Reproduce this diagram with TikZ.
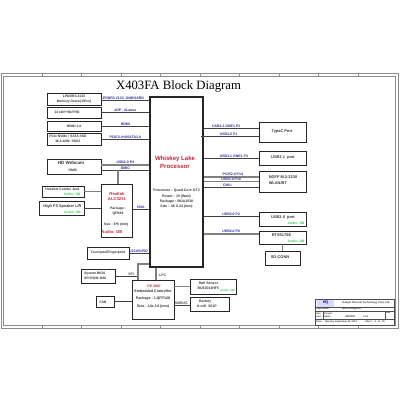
\documentclass[tikz,border=0pt]{standalone}
\usepackage{fontspec}
\setmainfont{Liberation Sans}
\newfontfamily\titlefont{Liberation Serif}
\usepackage{xcolor}
\usetikzlibrary{arrows.meta, positioning, calc}
\definecolor{siglabel}{RGB}{40,40,150}
\definecolor{audiogreen}{RGB}{60,200,90}
\definecolor{partred}{RGB}{190,40,60}

\begin{document}
\begin{tikzpicture}[
  x=0.25mm, y=-0.25mm,
  blk/.style={rectangle, draw=black!85, line width=0.6pt, inner sep=0pt},
  txt/.style={inner sep=0pt, align=center, text=black!80, font=\fontsize{2.4}{3.4}\selectfont\bfseries},
  bigtxt/.style={txt, font=\fontsize{2.8}{3.8}\selectfont\bfseries},
  partname/.style={inner sep=0pt, align=center, text=partred, font=\fontsize{3}{3.8}\selectfont\bfseries},
  audiotag/.style={inner sep=0pt, text=audiogreen, font=\fontsize{2.4}{3}\selectfont\bfseries},
  wire/.style={draw=black!75, line width=0.55pt},
  graywire/.style={draw=black!50, line width=0.9pt},
  sig/.style={above, inner sep=0.35pt, font=\fontsize{2.5}{3}\selectfont\bfseries, text=siglabel},
  plainsig/.style={sig, text=black!70},
  border/.style={draw=black!45, line width=0.55pt},
  cell/.style={draw=black!70, line width=0.35pt},
  celltxt/.style={inner sep=0pt, align=left, anchor=west, text=black!80, font=\fontsize{1.65}{2.1}\selectfont\bfseries}]

  \useasboundingbox (0,0) rectangle (400,400);

  % sheet border
  \node[inner sep=0pt] (TITLE) at (178.5,86) {\titlefont\fontsize{9.05}{11}\selectfont X403FA Block Diagram};
  \coordinate (frameA) at (1,73);
  \coordinate (frameB) at (398,328);
  \coordinate (frameC) at (3,76);
  \coordinate (frameD) at (395,325);
  \draw[border] (frameA) rectangle (frameB);
  \draw[border] (frameC) rectangle (frameD);
  \foreach \tickx in {42,81,121,160,200,239,279,318,358} {
    \draw[border] (\tickx,73) -- (\tickx,76);
    \draw[border] (\tickx,325) -- (\tickx,328);
  }

  % processor
  \node[blk, line width=1.1pt, minimum width=13.25mm, minimum height=42.5mm] (CPU) at (176.5,182) {};
  \node[partname, font=\fontsize{4.3}{5.8}\selectfont\bfseries] (CPUNAME) at (175,162) {Whiskey Lake\\Processor};
  \node[txt, font=\fontsize{2.5}{3.8}\selectfont\bfseries] (CPUSPEC) at (176.5,199) {Processor : Quad Core GT2\\Power : 15 (Watt)\\Package : BGA1528\\Size : 46 X 24 (mm)};

  % left side
  \node[blk, minimum width=13.5mm, minimum height=3mm] (LPDDR) at (74,99) {};
  \node[txt] (LPDDRTXT) at (74,99) {LPDDR3-2133\\Memory Down(-8Pcs)};
  \node[blk, minimum width=13.5mm, minimum height=2.75mm] (EDP) at (74,112.5) {};
  \node[txt] (EDPTXT) at (67,112.5) {14 eDP HD/FHD};
  \node[blk, minimum width=13.5mm, minimum height=2.5mm] (HDMI) at (74,126) {};
  \node[txt] (HDMITXT) at (74,126) {HDMI 1.4};
  \node[blk, minimum width=13.5mm, minimum height=3mm] (SSD) at (74,139) {};
  \node[txt] (SSDTXT) at (68,139) {PCIe NVMe / SATA SSD\\M.2-2280\ \ SSD1};
  \node[blk, minimum width=13.5mm, minimum height=3.75mm] (WEBCAM) at (74,166.5) {};
  \node[txt, font=\fontsize{3.2}{4}\selectfont\bfseries] (WEBCAMTXT) at (71,163) {HD Webcam};
  \node[txt] (WEBCAMDMIC) at (73,170) {DMIC};
  \node[blk, minimum width=10.5mm, minimum height=2.75mm] (HEADSET) at (63,191.5) {};
  \node[txt] (HEADSETTXT) at (62.5,189) {Headset Combo Jack};
  \node[audiotag] (HEADSETAUDIO) at (72,194) {Audio: DB};
  \node[blk, minimum width=11.25mm, minimum height=3.5mm] (SPEAKER) at (61.5,208) {};
  \node[txt, font=\fontsize{2.75}{3.4}\selectfont\bfseries] (SPEAKERTXT) at (62.5,206.5) {High FS Speaker L/R};
  \node[audiotag] (SPEAKERAUDIO) at (72.5,212) {Audio: DB};
  \node[blk, minimum width=7.75mm, minimum height=13.25mm] (REALTEK) at (116.5,210.5) {};
  \node[partname] (ALCNAME) at (117,196.5) {Realtek\\ALC3251};
  \node[txt, font=\fontsize{2.4}{3.1}\selectfont\bfseries] (ALCPKG) at (118,211) {Package :\\QFN48};
  \node[txt] (ALCSIZE) at (116,225) {Size : 6*6 (mm)};
  \node[partname] (ALCAUDIO) at (112,232) {Audio: DB};
  \node[blk, minimum width=10.5mm, minimum height=3mm] (TOUCH) at (108,253) {};
  \node[txt] (TOUCHTXT) at (108,253) {Touchpad/Fingerprint};
  \node[blk, minimum width=8.5mm, minimum height=3.5mm] (BIOS) at (98,276) {};
  \node[txt, align=left] (BIOSTXT) at (95,276) {System BIOS\\SPI ROM 16M};
  \node[blk, minimum width=4.5mm, minimum height=2.75mm] (FAN) at (105,301.5) {};
  \node[txt] (FANTXT) at (103,302) {FAN};

  % embedded controller
  \node[blk, minimum width=10.5mm, minimum height=9.75mm] (EC) at (153,299.5) {};
  \node[partname, font=\fontsize{2.4}{3}\selectfont\bfseries] (ECNAME) at (154,286) {ITE 8987};
  \node[txt, font=\fontsize{2.6}{5.6}\selectfont\bfseries] (ECTXT) at (153,299) {Embedded Controller\\Package : LQFP128\\Size : 14x 14 (mm)};
  \node[blk, minimum width=11.5mm, minimum height=3.75mm] (HALL) at (213,286.5) {};
  \node[txt, font=\fontsize{2.5}{3.6}\selectfont\bfseries] (HALLTXT) at (208.5,285.5) {Hall Sensor\\BU52013HFV};
  \node[audiotag, font=\fontsize{2.1}{3}\selectfont\bfseries] (HALLAUDIO) at (227.5,290) {Audio: DB};
  \node[blk, minimum width=9.75mm, minimum height=3.5mm] (BATTERY) at (209.5,304) {};
  \node[txt, font=\fontsize{2.5}{3.6}\selectfont\bfseries, align=left] (BATTERYTXT) at (207,304) {\ \ Battery\\6-cell\ \ 3S1P};

  % right side
  \node[blk, minimum width=11.75mm, minimum height=5mm] (TYPEC) at (282.5,132) {};
  \node[bigtxt] (TYPECTXT) at (282,132) {TypeC Port};
  \node[blk, minimum width=11.75mm, minimum height=3.5mm] (USB31) at (282.5,158) {};
  \node[bigtxt] (USB31TXT) at (283,157.5) {USB3.1\ \ port};
  \node[blk, minimum width=11.75mm, minimum height=5.25mm] (NGFF) at (282.5,181.5) {};
  \node[bigtxt, align=left] (NGFFTXT) at (283,180) {NGFF M.2-2230\\WLAN/BT};
  \node[blk, minimum width=11.75mm, minimum height=3.5mm] (USB20) at (282.5,219) {};
  \node[bigtxt] (USB20TXT) at (283,218) {USB2.0\ \ port};
  \node[audiotag] (USB20AUDIO) at (296,223) {Audio: DB};
  \node[blk, minimum width=11.75mm, minimum height=3.25mm] (RTS) at (282.5,237.5) {};
  \node[bigtxt] (RTSTXT) at (281.5,235) {RTS5176E};
  \node[audiotag] (RTSAUDIO) at (296,241) {Audio: DB};
  \node[blk, minimum width=8.75mm, minimum height=3.5mm] (SDCONN) at (282.5,258) {};
  \node[bigtxt] (SDCONNTXT) at (280,257.5) {SD-CONN};

  % title block
  \node[cell, minimum width=19.75mm, minimum height=6.5mm, inner sep=0pt] (TITLEBOX) at (354.5,312) {};
  \node[inner sep=0pt, minimum width=4.25mm, minimum height=1.75mm, fill=blue!15, text=blue!60!black, font=\fontsize{2.6}{3}\selectfont\bfseries] (LOGO) at (325.5,303) {HQ};
  \node[celltxt, font=\fontsize{1.85}{2.4}\selectfont\bfseries] (COMPANY) at (342,303) {Huaqin Telecom Technology Corp.,Ltd};
  \node[celltxt] (PAGENAME) at (316,309) {Page Name:};
  \node[celltxt, font=\fontsize{1.9}{2.2}\selectfont\bfseries] (PAGEVAL) at (342,309) {Block Diagram};
  \node[celltxt] (SIZECELL) at (316,315) {Size\\Cust};
  \node[celltxt] (PROJCELL) at (324,315) {Project\\Name};
  \node[celltxt, font=\fontsize{1.9}{2.2}\selectfont\bfseries] (PROJVAL) at (345,316.5) {X403FA};
  \node[celltxt] (PROJREV) at (363,317) {V1.0};
  \node[celltxt] (REVCELL) at (386,313) {Rev};
  \node[celltxt] (DATECELL) at (316,321.5) {Date:};
  \node[celltxt] (DATEVAL) at (325,322) {Monday, September 03, 2018};
  \node[celltxt] (SHEETCELL) at (365,321.5) {Sheet\ \ \ \ \ 4\ \ \ of\ \ \ 99};
  \draw[cell] (TITLEBOX.west |- 0,307) -- (TITLEBOX.east |- 0,307);
  \draw[cell] (TITLEBOX.west |- 0,311) -- (TITLEBOX.east |- 0,311);
  \draw[cell] (TITLEBOX.west |- 0,319) -- (TITLEBOX.east |- 0,319);
  \draw[cell] (323,311) -- (323,319);
  \draw[cell] (385,311) -- (385,319);

  % left connectors
  \draw[wire] (LPDDR.east |- 0,100) -- node[sig, pos=0.44]{LPDDR3 2133 -ONBOARD} (CPU.west |- 0,100);
  \draw[wire] (EDP.east) -- node[sig]{eDP , 2Lanes} (CPU.west |- EDP);
  \draw[wire] (HDMI.east) -- node[sig]{HDMI} (CPU.west |- HDMI);
  \draw[wire] (SSD.east) -- node[sig]{PCIE3-4*4/SATA3.0} (CPU.west |- SSD);
  \draw[graywire] ([yshift=0.4mm]WEBCAM.east) coordinate (USBA) -- node[sig]{USB2.0 P4} (USBA -| CPU.west);
  \draw[wire] ([yshift=-0.9mm]WEBCAM.east) coordinate (DMICA) -- node[sig, inner sep=0pt]{DMIC} (DMICA -| CPU.west);
  \draw[graywire] (REALTEK.north -| 118,0) -- (DMICA -| 118,0);
  \draw[graywire] (HEADSET.east) -- (HEADSET.east -| REALTEK.west);
  \draw[wire] (SPEAKER.east) -- (SPEAKER.east -| REALTEK.west);
  \draw[wire] (REALTEK.east |- 0,209) -- node[sig]{HDA} (CPU.west |- 0,209);
  \draw[wire] (TOUCH.east) -- node[sig, inner sep=0pt]{I2C0/GPIO} (CPU.west |- TOUCH);
  \draw[wire] (BIOS.east) -- node[plainsig, pos=0.7]{SPI} (138,276) coordinate (SPIJOIN);
  \draw[graywire] (CPU.west |- 0,264) -- (138,264) -- (EC.north -| 138,0);
  \draw[graywire] (CPU.south -| 156,0) -- node[plainsig, right, pos=0.6, xshift=0.5mm]{LPC} (EC.north -| 156,0);
  \draw[wire] (FAN.east) -- (EC.west |- FAN);
  \draw[graywire] (EC.east |- HALL) -- (HALL.west);
  \draw[wire] (EC.east |- 0,305) -- node[plainsig, pos=0.45]{SMBUS} (BATTERY.west |- 0,305);

  % right connectors
  \draw[wire] (CPU.east |- 0,128) -- node[sig, pos=0.41]{USB3.1 GNE1 P1} (TYPEC.west |- 0,128);
  \draw[wire] (201,136) -- node[sig, pos=0.48]{USB2.0 P1} (TYPEC.west |- 0,136);
  \draw[wire] (CPU.east |- USB31) -- node[sig, pos=0.55]{USB3.1 GNE1 P3} (USB31.west);
  \draw[graywire] (CPU.east |- 0,177) -- node[sig, pos=0.53]{PCIE2.0 P14} (NGFF.west |- 0,177);
  \draw[graywire] (CPU.east |- 0,181.5) -- node[sig, inner sep=0pt]{USB2.0 P10} (NGFF.west |- 0,181.5);
  \draw[wire] (CPU.east |- 0,187) -- node[sig, inner sep=0pt, pos=0.43]{CNVi} (NGFF.west |- 0,187);
  \draw[wire] (CPU.east |- 0,216) -- node[sig]{USB2.0 P2} (USB20.west |- 0,216);
  \draw[graywire] (CPU.east |- 0,234) -- node[sig]{USB2.0 P6} (RTS.west |- 0,234);
  \draw[graywire] (RTS.south) -- (SDCONN.north);
\end{tikzpicture}
\end{document}
